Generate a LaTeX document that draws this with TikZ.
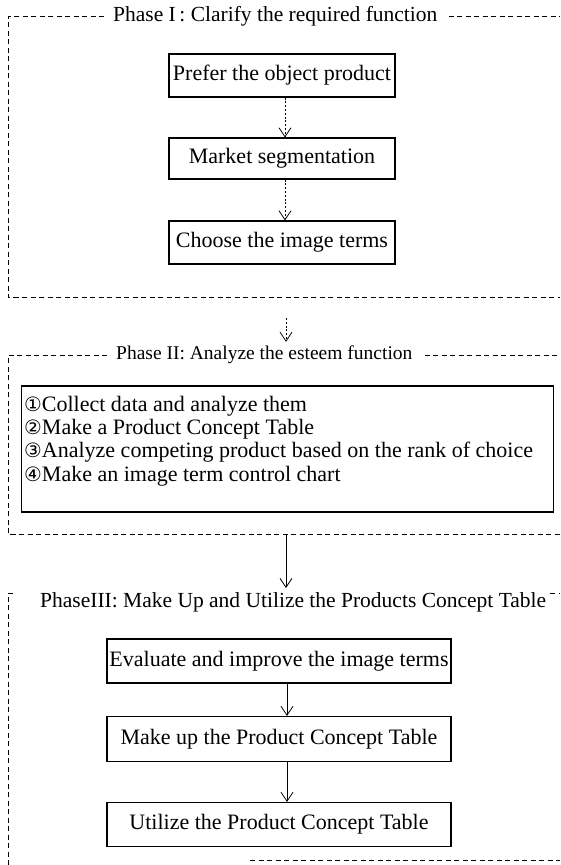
\documentclass[tikz,border=0pt]{standalone}
\usepackage{fontspec}
\setmainfont{Liberation Serif}
\newfontfamily\symfont{DejaVu Sans}[Scale=0.9]
\usetikzlibrary{arrows.meta}
\tikzset{
  stepbox/.style={draw, line width=1.1pt, inner sep=0pt, minimum height=43pt,
    font=\fontsize{22}{23}\selectfont},
  frameline/.style={line width=0.9pt, dash pattern=on 5pt off 3.5pt},
  flow/.style={line width=0.6pt, -{Straight Barb[length=9pt,width=12pt,line width=0.8pt]}},
  dotflow/.style={flow, dash pattern=on 2pt off 1.8pt},
  phasetitle/.style={anchor=west, inner sep=0pt, font=\fontsize{21.5}{23}\selectfont},
  itemtext/.style={anchor=base west, inner sep=0pt, font=\fontsize{22}{23}\selectfont},
}
\begin{document}
\begin{tikzpicture}[x=1pt,y=-1pt]
\useasboundingbox (0,0) rectangle (560,865);

% ---------- Phase I ----------
\node[phasetitle] (t1) at (113,16) {Phase I\,: Clarify the required function};
\draw[frameline] ([xshift=-9pt]t1.west) -- (8,16) -- (8,297) -- (560,297);
\draw[frameline] ([xshift=11pt]t1.east) -- (560,16);

\node[stepbox, minimum width=226pt, minimum height=43pt] (p1) at (282,75.5) {Prefer the object product};
\node[stepbox, minimum width=226pt, minimum height=41pt] (p2) at (282,158.5) {Market segmentation};
\node[stepbox, minimum width=226pt, minimum height=43pt] (p3) at (282,242.5) {Choose the image terms};
\coordinate (ax1) at (285,0);
\draw[dotflow] (p1.south -| ax1) -- (p2.north -| ax1);
\draw[dotflow] (p2.south -| ax1) -- (p3.north -| ax1);

% ---------- Phase II ----------
\node[phasetitle, font=\fontsize{19.5}{22}\selectfont] (t2) at (116,355) {Phase II: Analyze the esteem function};
\draw[frameline] ([xshift=-9pt]t2.west) -- (8,355) -- (8,534) -- (560,534);
\draw[frameline] ([xshift=12pt]t2.east) -- (560,355);
\coordinate (a12) at (286,318);
\draw[dotflow] (a12) -- ([yshift=4pt]t2.north -| a12);

\node[draw, line width=1.1pt, minimum width=532pt, minimum height=126pt, inner sep=0pt] (list) at (287.5,449) {};
\node[itemtext] (i1) at (24,411) {{\symfont ①}Collect data and analyze them};
\node[itemtext] (i2) at (24,434) {{\symfont ②}Make a Product Concept Table};
\node[itemtext] (i3) at (24,457) {{\symfont ③}Analyze competing product based on the rank of choice};
\node[itemtext] (i4) at (24,481) {{\symfont ④}Make an image term control chart};

% ---------- Phase III ----------
\node[phasetitle] (t3) at (40,602) {PhaseIII: Make Up and Utilize the Products Concept Table};
\draw[frameline] ([xshift=-27pt,yshift=9pt]t3.west) -- (8,593) -- (8,865);
\draw[frameline] ([xshift=4pt,yshift=9pt]t3.east) -- (560,593);
\draw[frameline] (250,860) -- (560,860);
\coordinate (a23) at (286,534);
\draw[flow] (a23) -- ([yshift=4pt]t3.north -| a23);

\node[stepbox, minimum width=344pt, minimum height=44pt] (e1) at (279,661) {Evaluate and improve the image terms};
\node[stepbox, minimum width=344pt, minimum height=45pt] (e2) at (279,739) {Make up the Product Concept Table};
\node[stepbox, minimum width=344pt, minimum height=44pt] (e3) at (279,824.5) {Utilize the Product Concept Table};
\coordinate (ax3) at (287,0);
\draw[flow] (e1.south -| ax3) -- (e2.north -| ax3);
\draw[flow] (e2.south -| ax3) -- (e3.north -| ax3);
\end{tikzpicture}
\end{document}
